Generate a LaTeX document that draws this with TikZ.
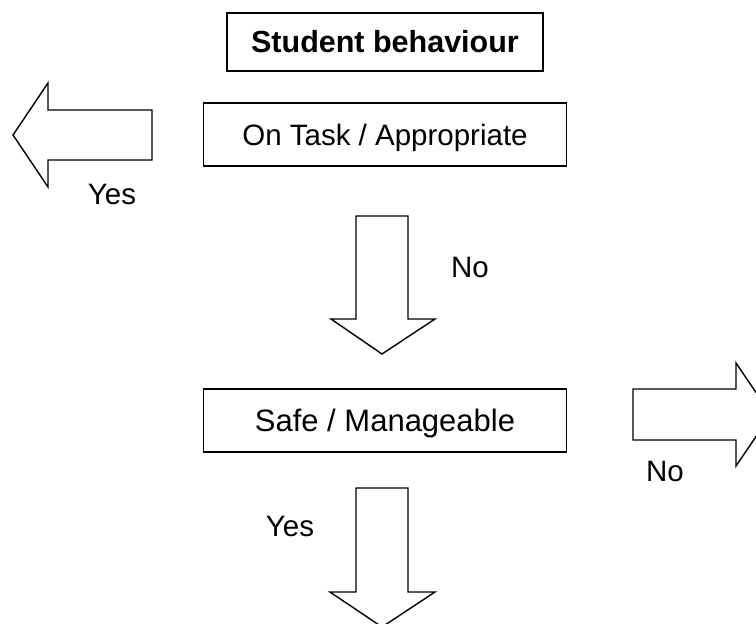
\documentclass[tikz,border=0pt]{standalone}
\usepackage{fontspec}
\setmainfont{Liberation Sans}
\begin{document}
\begin{tikzpicture}[x=1pt,y=-1pt,
  box/.style={draw,line width=1.4pt,inner sep=0pt,text height=21pt,text depth=0pt,font=\fontsize{29.5}{35}\selectfont},
  blockarrow/.style={draw,line width=1.4pt,line join=miter,fill=white},
  lbl/.style={font=\fontsize{29.5}{35}\selectfont,inner sep=0pt,text height=21pt,text depth=0pt}]
\useasboundingbox (0,0) rectangle (756,624);
\clip (0,0) rectangle (756,624);
% boxes
\node[box,minimum width=316pt,minimum height=58pt,font=\fontsize{30.5}{36}\selectfont] (title) at (385,42) {\textbf{Student behaviour}};
\node[box,minimum width=363pt,minimum height=63pt] (task) at (385,134.5) {On Task / Appropriate};
\node[box,minimum width=363pt,minimum height=63pt,font=\fontsize{31}{37}\selectfont] (safe) at (385,420.5) {Safe / Manageable};
% block arrows
\draw[blockarrow] (152,110) -- (48,110) -- (48,83) -- (13,135) -- (48,187) -- (48,160) -- (152,160) -- cycle;
\draw[blockarrow] (356,216) -- (408,216) -- (408,319) -- (435,319) -- (382,354) -- (331,319) -- (356,319) -- cycle;
\draw[blockarrow] (633,389) -- (736,389) -- (736,363) -- (771,414.5) -- (736,466) -- (736,440) -- (633,440) -- cycle;
\draw[blockarrow] (356,488) -- (408,488) -- (408,592) -- (435,592) -- (382,627) -- (330,592) -- (356,592) -- cycle;
% labels
\node[lbl] (yes1) at (112,193.5) {Yes};
\node[lbl] (no1) at (470,267) {No};
\node[lbl] (no2) at (665,471) {No};
\node[lbl] (yes2) at (290,526) {Yes};
\end{tikzpicture}
\end{document}
